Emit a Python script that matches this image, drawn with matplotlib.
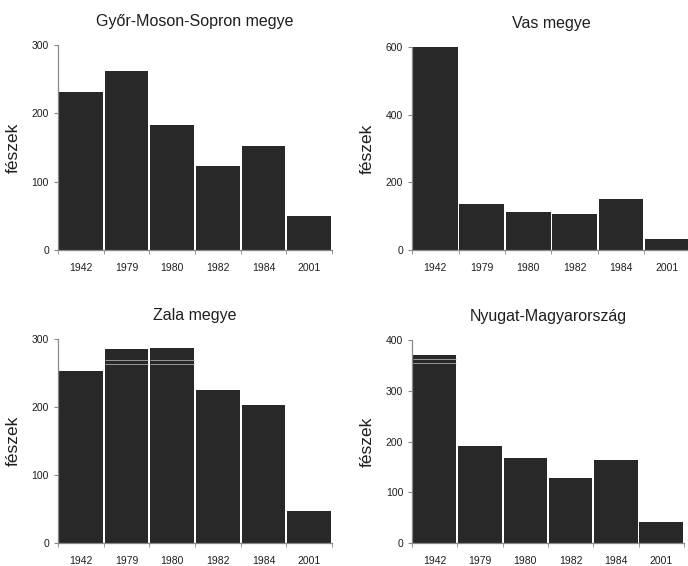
import numpy as np
import matplotlib
matplotlib.use('Agg')
import matplotlib.pyplot as plt
from matplotlib.ticker import FixedLocator

plt.rcParams['font.family'] = ['Liberation Sans', 'DejaVu Sans']

years = ['1942', '1979', '1980', '1982', '1984', '2001']

titles = ['Győr-Moson-Sopron megye', 'Vas megye', 'Zala megye', 'Nyugat-Magyarország']
gyor = [231, 262, 183, 123, 152, 50]
vas = [600, 136, 112, 106, 151, 33]
zala = [253, 285, 287, 225, 203, 47]
nyugat = [370, 191, 167, 128, 163, 41]
series = [gyor, vas, zala, nyugat]

ymax = [300, 600, 300, 400]
ystep = [100, 200, 100, 100]

# faint light lines seen across some bars in the original
streaks = {2: ([1, 2], [269, 263]), 3: ([0], [362, 355])}

# axes rectangles [left, bottom, width, height]
rects = [
    [0.0843, 0.5583, 0.3983, 0.362],
    [0.599, 0.5583, 0.405, 0.359],
    [0.0843, 0.0406, 0.3983, 0.3604],
    [0.599, 0.0406, 0.395, 0.3586],
]

fig = plt.figure(figsize=(6.88, 5.66), dpi=100)
bar_color = '#282828'
axis_color = '#888888'
text_color = '#1e1e1e'

for i in range(4):
    ax = fig.add_axes(rects[i])
    x = np.arange(len(years))
    ax.bar(x, series[i], width=0.96, color=bar_color)
    if i in streaks:
        idx, levels = streaks[i]
        for j in idx:
            for lv in levels:
                ax.hlines(lv, j - 0.48, j + 0.48, color='#aaaaaa', lw=0.6)
    ax.set_xlim(-0.5, len(years) - 0.5)
    ax.set_ylim(0, ymax[i])
    ax.set_yticks(np.arange(0, ymax[i] + 1, ystep[i]))
    ax.set_xticks(x)
    ax.set_xticklabels(years)
    ax.xaxis.set_minor_locator(FixedLocator(np.arange(-0.5, len(years), 1.0)))
    ax.tick_params(axis='x', which='major', length=0, labelsize=7.5, pad=9, colors=text_color)
    ax.tick_params(axis='x', which='minor', length=3, color=axis_color, direction='out')
    ax.tick_params(axis='y', length=3, color=axis_color, labelsize=7.5, labelcolor=text_color)
    for s in ['top', 'right']:
        ax.spines[s].set_visible(False)
    for s in ['left', 'bottom']:
        ax.spines[s].set_color(axis_color)
        ax.spines[s].set_linewidth(0.9)
    ax.set_ylabel('fészek', fontsize=12.5, color=text_color, labelpad=8)
    ax.set_title(titles[i], fontsize=11.5, color=text_color, pad=13.5)

fig.savefig('out.png', dpi=100)
